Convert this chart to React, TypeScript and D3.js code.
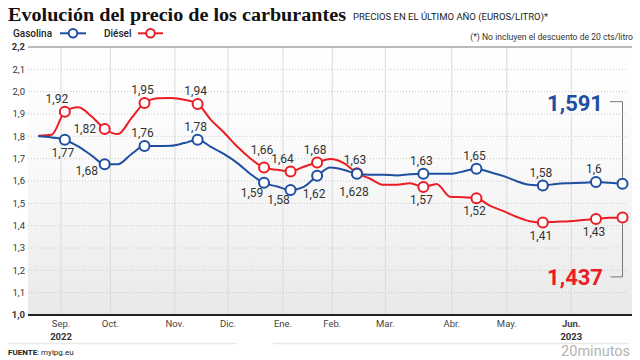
import React, { useEffect, useRef } from "react";
import * as d3 from "d3";

// Precios semanales (euros/litro)
const fechas = [
  "2022-08-22", "2022-08-29", "2022-09-05", "2022-09-12", "2022-09-19", "2022-09-26",
  "2022-10-03", "2022-10-10", "2022-10-17", "2022-10-24", "2022-10-31", "2022-11-07",
  "2022-11-14", "2022-11-21", "2022-11-28", "2022-12-05", "2022-12-12", "2022-12-19",
  "2022-12-26", "2023-01-02", "2023-01-09", "2023-01-16", "2023-01-23", "2023-01-30",
  "2023-02-06", "2023-02-13", "2023-02-20", "2023-02-27", "2023-03-06", "2023-03-13",
  "2023-03-20", "2023-03-27", "2023-04-03", "2023-04-10", "2023-04-17", "2023-04-24",
  "2023-05-01", "2023-05-08", "2023-05-15", "2023-05-22", "2023-05-29", "2023-06-05",
  "2023-06-12", "2023-06-19", "2023-06-26",
];

const gasolina = [
  1.8, 1.795, 1.785, 1.755, 1.715, 1.675, 1.675, 1.72, 1.757, 1.757, 1.758, 1.77,
  1.785, 1.753, 1.72, 1.68, 1.63, 1.592, 1.575, 1.56, 1.574, 1.623, 1.66, 1.65,
  1.632, 1.628, 1.628, 1.625, 1.63, 1.632, 1.632, 1.632, 1.643, 1.655, 1.64, 1.623,
  1.6, 1.583, 1.58, 1.587, 1.59, 1.592, 1.595, 1.592, 1.588,
];

const diesel = [
  1.803, 1.807, 1.91, 1.93, 1.89, 1.833, 1.81, 1.88, 1.949, 1.97, 1.972, 1.964,
  1.945, 1.874, 1.816, 1.753, 1.7, 1.66, 1.65, 1.643, 1.664, 1.683, 1.698, 1.68,
  1.635, 1.61, 1.583, 1.583, 1.59, 1.573, 1.587, 1.53, 1.527, 1.523, 1.49, 1.466,
  1.44, 1.42, 1.414, 1.418, 1.42, 1.425, 1.43, 1.435, 1.437,
];

// etiquetas: índice de semana, texto, colocación
const etiquetasGasolina = [
  { i: 2, t: "1,77", p: "s" },
  { i: 5, t: "1,68", p: "wsw" },
  { i: 8, t: "1,76", p: "n" },
  { i: 12, t: "1,78", p: "n" },
  { i: 17, t: "1,59", p: "sw" },
  { i: 19, t: "1,58", p: "sw" },
  { i: 21, t: "1,62", p: "s2" },
  { i: 24, t: "1,628", p: "s2" },
  { i: 29, t: "1,63", p: "n" },
  { i: 33, t: "1,65", p: "n" },
  { i: 38, t: "1,58", p: "n" },
  { i: 42, t: "1,6", p: "n" },
];

const etiquetasDiesel = [
  { i: 2, t: "1,92", p: "nw" },
  { i: 5, t: "1,82", p: "w" },
  { i: 8, t: "1,95", p: "n" },
  { i: 12, t: "1,94", p: "n" },
  { i: 17, t: "1,66", p: "n2" },
  { i: 19, t: "1,64", p: "nw" },
  { i: 21, t: "1,68", p: "n" },
  { i: 24, t: "1,63", p: "n" },
  { i: 29, t: "1,57", p: "s" },
  { i: 33, t: "1,52", p: "s" },
  { i: 38, t: "1,41", p: "s" },
  { i: 42, t: "1,43", p: "s" },
];

const ultimoGasolina = "1,591";
const ultimoDiesel = "1,437";

const ticksY = [1.0, 1.1, 1.2, 1.3, 1.4, 1.5, 1.6, 1.7, 1.8, 1.9, 2.0, 2.1, 2.2];
const meses = ["Sep.", "Oct.", "Nov.", "Dic.", "Ene.", "Feb.", "Mar.", "Abr.", "May.", "Jun."];
const fechasMeses = [
  "2022-09-03", "2022-09-29", "2022-11-02", "2022-11-30", "2022-12-29",
  "2023-01-24", "2023-02-21", "2023-03-28", "2023-04-26", "2023-05-30",
];
const anios = [
  { fecha: "2022-09-03", t: "2022" },
  { fecha: "2023-05-30", t: "2023" },
];

const AZUL = "#1e4fa0";
const ROJO = "#ec1c24";
const FONT = "Roboto, 'Noto Sans', sans-serif";

const offsets = {
  n: [-2, -13],
  n2: [-2, -18],
  nw: [-8, -12.5],
  w: [-20, 0],
  s: [-2, 13],
  s2: [-3, 17.5],
  sw: [-12, 10],
  wsw: [-18, 7],
};

const App = () => {
  const ref = useRef(null);

  useEffect(() => {
    const W = 640;
    const H = 360;
    const parse = d3.timeParse("%Y-%m-%d");
    const dates = fechas.map(d => parse(d));
    const coma = (v: number) => d3.format(".1f")(v).replace(".", ",");

    const x = d3.scaleTime()
      .domain([dates[0], dates[dates.length - 1]])
      .range([38.3, 622.5]);
    const y = d3.scaleLinear().domain([1.0, 2.2]).range([315, 47]);

    const left = 28;
    const right = 632;

    const svg = d3.select(ref.current)
      .append("svg")
      .attr("width", W)
      .attr("height", H)
      .style("position", "absolute")
      .style("left", "0px")
      .style("top", "0px")
      .style("background", "#fff")
      .style("font-family", FONT);

    const grad = svg.append("defs").append("linearGradient")
      .attr("id", "fondo")
      .attr("x1", 0).attr("y1", 0).attr("x2", 0).attr("y2", 1);
    grad.append("stop").attr("offset", "0%").attr("stop-color", "#ffffff");
    grad.append("stop").attr("offset", "45%").attr("stop-color", "#f9f9f9");
    grad.append("stop").attr("offset", "100%").attr("stop-color", "#e9e9e9");

    svg.append("rect")
      .attr("x", left).attr("y", y(2.2))
      .attr("width", right - left).attr("height", y(1.0) - y(2.2))
      .attr("fill", "url(#fondo)");

    // cuadrícula horizontal
    svg.append("g")
      .selectAll("line")
      .data(ticksY.filter(d => d > 1.0 && d < 2.2))
      .join("line")
      .attr("x1", left).attr("x2", right - 4)
      .attr("y1", d => y(d)).attr("y2", d => y(d))
      .attr("stroke", "#c8c8c8")
      .attr("stroke-dasharray", "1,2");

    // cuadrícula vertical
    svg.append("g")
      .selectAll("line")
      .data(fechasMeses)
      .join("line")
      .attr("x1", d => x(parse(d))).attr("x2", d => x(parse(d)))
      .attr("y1", y(2.2)).attr("y2", y(1.0))
      .attr("stroke", "#dadada");

    svg.append("line")
      .attr("x1", left).attr("x2", right)
      .attr("y1", y(2.2)).attr("y2", y(2.2))
      .attr("stroke", "#777");

    svg.append("line")
      .attr("x1", left).attr("x2", right)
      .attr("y1", y(1.0)).attr("y2", y(1.0))
      .attr("stroke", "#222")
      .attr("stroke-width", 2);

    svg.append("g")
      .selectAll("text")
      .data(ticksY)
      .join("text")
      .attr("x", 25)
      .attr("y", d => y(d))
      .attr("dy", "0.35em")
      .attr("text-anchor", "end")
      .attr("font-size", 9.5)
      .attr("font-weight", d => (d === 1.0 || d === 2.2 ? 700 : 400))
      .attr("fill", "#333")
      .text(d => coma(d));

    svg.append("g")
      .selectAll("text")
      .data(meses)
      .join("text")
      .attr("x", (d, i) => x(parse(fechasMeses[i])))
      .attr("y", 326.5)
      .attr("text-anchor", "middle")
      .attr("font-size", 9.5)
      .attr("font-weight", d => (d === "Jun." ? 700 : 400))
      .attr("fill", "#444")
      .text(d => d);

    svg.append("g")
      .selectAll("text")
      .data(anios)
      .join("text")
      .attr("x", d => x(parse(d.fecha)))
      .attr("y", 340)
      .attr("text-anchor", "middle")
      .attr("font-size", 9.5)
      .attr("font-weight", 700)
      .attr("fill", "#333")
      .text(d => d.t);

    svg.append("line")
      .attr("x1", 8).attr("x2", 237).attr("y1", 343.5).attr("y2", 343.5)
      .attr("stroke", "#e8e8e8").attr("stroke-width", 1.5);
    svg.append("line")
      .attr("x1", 273).attr("x2", 629).attr("y1", 343.5).attr("y2", 343.5)
      .attr("stroke", "#e8e8e8").attr("stroke-width", 1.5);

    const line = d3.line()
      .x((d, i) => x(dates[i]))
      .y(d => y(d))
      .curve(d3.curveMonotoneX);

    const series = [
      { valores: diesel, color: ROJO, etiquetas: etiquetasDiesel },
      { valores: gasolina, color: AZUL, etiquetas: etiquetasGasolina },
    ];

    series.forEach(s => {
      svg.append("path")
        .datum(s.valores)
        .attr("fill", "none")
        .attr("stroke", s.color)
        .attr("stroke-width", 2)
        .attr("stroke-linejoin", "round")
        .attr("d", line);
    });

    series.forEach(s => {
      const idx = s.etiquetas.map(e => e.i).concat([s.valores.length - 1]);
      svg.append("g")
        .selectAll("circle")
        .data(idx)
        .join("circle")
        .attr("cx", i => x(dates[i]))
        .attr("cy", i => y(s.valores[i]))
        .attr("r", 5)
        .attr("fill", "#fff")
        .attr("stroke", s.color)
        .attr("stroke-width", 2);
    });

    series.forEach(s => {
      svg.append("g")
        .selectAll("text")
        .data(s.etiquetas)
        .join("text")
        .attr("x", e => x(dates[e.i]) + offsets[e.p][0])
        .attr("y", e => y(s.valores[e.i]) + offsets[e.p][1])
        .attr("dy", "0.35em")
        .attr("text-anchor", "middle")
        .attr("font-size", 12)
        .attr("fill", "#333")
        .text(e => e.t);
    });

    // valores finales
    const last = dates.length - 1;
    const xl = x(dates[last]);
    const yg = y(gasolina[last]);
    const yd = y(diesel[last]);

    svg.append("path")
      .attr("d", `M${xl - 12.5},${yg - 82}H${xl}V${yg - 6}`)
      .attr("fill", "none")
      .attr("stroke", "#777");
    svg.append("text")
      .attr("x", xl - 19.5)
      .attr("y", yg - 73)
      .attr("text-anchor", "end")
      .attr("font-size", 22)
      .attr("font-weight", 700)
      .attr("fill", AZUL)
      .text(ultimoGasolina);

    svg.append("path")
      .attr("d", `M${xl},${yd + 6}V${yd + 59.5}H${xl - 12}`)
      .attr("fill", "none")
      .attr("stroke", "#777");
    svg.append("text")
      .attr("x", xl - 19.5)
      .attr("y", yd + 67.5)
      .attr("text-anchor", "end")
      .attr("font-size", 22)
      .attr("font-weight", 700)
      .attr("fill", ROJO)
      .text(ultimoDiesel);

    // cabecera
    svg.append("text")
      .attr("x", 8).attr("y", 20.5)
      .attr("font-family", "'Liberation Serif', 'DejaVu Serif', serif")
      .attr("font-size", 18.5)
      .attr("font-weight", 700)
      .attr("fill", "#111")
      .attr("textLength", 338)
      .attr("lengthAdjust", "spacingAndGlyphs")
      .text("Evolución del precio de los carburantes");

    svg.append("text")
      .attr("x", 353).attr("y", 20)
      .attr("font-size", 9.5)
      .attr("fill", "#222")
      .text("PRECIOS EN EL ÚLTIMO AÑO (EUROS/LITRO)*");

    svg.append("text")
      .attr("x", 633).attr("y", 40)
      .attr("text-anchor", "end")
      .attr("font-size", 8.6)
      .attr("fill", "#333")
      .text("(*) No incluyen el descuento de 20 cts/litro");

    const leyenda = [
      { t: "Gasolina", color: AZUL, x: 13, x1: 60, x2: 86 },
      { t: "Diésel", color: ROJO, x: 104, x1: 138, x2: 163 },
    ];
    const lg = svg.append("g").selectAll("g").data(leyenda).join("g");
    lg.append("text")
      .attr("x", d => d.x).attr("y", 36.8)
      .attr("font-size", 10)
      .attr("font-weight", 500)
      .attr("fill", "#222")
      .text(d => d.t);
    lg.append("line")
      .attr("x1", d => d.x1).attr("x2", d => d.x2)
      .attr("y1", 33.3).attr("y2", 33.3)
      .attr("stroke", d => d.color).attr("stroke-width", 2);
    lg.append("circle")
      .attr("cx", d => (d.x1 + d.x2) / 2).attr("cy", 33.3)
      .attr("r", 4.3)
      .attr("fill", "#fff")
      .attr("stroke", d => d.color).attr("stroke-width", 2);

    // pie
    const fuente = svg.append("text")
      .attr("x", 8).attr("y", 355)
      .attr("font-size", 8)
      .attr("fill", "#222");
    fuente.append("tspan").attr("font-weight", 700).text("FUENTE");
    fuente.append("tspan").text(": mylpg.eu");

    svg.append("text")
      .attr("x", 630).attr("y", 356)
      .attr("text-anchor", "end")
      .attr("font-size", 14.5)
      .attr("fill", "#b3b3b3")
      .text("20minutos");

    return () => {
      d3.select(ref.current).select("svg").remove();
    };
  }, []);

  return <div ref={ref} style={{ width: 640, height: 360 }}></div>;
};

export default App;
